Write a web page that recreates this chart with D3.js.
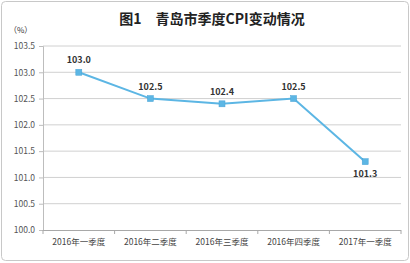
<!DOCTYPE html>
<html><head><meta charset="utf-8">
<script src="https://cdn.jsdelivr.net/npm/d3@7"></script>
<style>body{margin:0;background:#fff;}svg{display:block;}</style>
</head><body>
<svg id="c" width="410" height="263"></svg>
<script>
const categories = ["2016年一季度","2016年二季度","2016年三季度","2016年四季度","2017年一季度"];
const values = [103.0, 102.5, 102.4, 102.5, 101.3];
const yTicks = [100.0, 100.5, 101.0, 101.5, 102.0, 102.5, 103.0, 103.5];
const title = "图1　青岛市季度CPI变动情况";
const unit = "（%）";

const svg = d3.select("#c");
const font = "'Noto Sans CJK SC','DejaVu Sans',sans-serif";
svg.append("rect").attr("x",1.5).attr("y",1.5).attr("width",407).attr("height",259)
  .attr("rx",4).attr("fill","#fff").attr("stroke","#c8c8c8");

const L=43, R=401, T=46, B=230;
const x = d3.scaleBand().domain(categories).range([L,R]);
const y = d3.scaleLinear().domain([100,103.5]).range([B,T]);

svg.append("text").attr("x",212).attr("y",24).attr("text-anchor","middle")
  .attr("font-family",font).attr("font-size",14).attr("font-weight","bold").attr("fill","#222").text(title);
svg.append("text").attr("x",9).attr("y",33).attr("font-family",font).attr("font-size",8)
  .attr("fill","#333").text(unit);

// grid
svg.append("g").selectAll("line").data(yTicks.slice(1)).join("line")
  .attr("x1",L).attr("x2",R).attr("y1",d=>y(d)).attr("y2",d=>y(d))
  .attr("stroke","#d0d0d0").attr("stroke-width",1);

const ya = svg.append("g").attr("transform",`translate(${L},0)`)
  .call(d3.axisLeft(y).tickValues(yTicks).tickFormat(d3.format(".1f")).tickSize(4).tickPadding(4));
ya.select(".domain").attr("stroke","#bdbdbd");
ya.selectAll(".tick line").attr("stroke","#bdbdbd");
ya.selectAll("text").attr("font-family",font).attr("font-size",8.5).attr("fill","#555");

const xa = svg.append("g").attr("transform",`translate(0,${B})`)
  .call(d3.axisBottom(x).tickSize(0).tickPadding(9));
xa.select(".domain").remove();
xa.selectAll("text").attr("font-family",font).attr("font-size",8.5).attr("fill","#444");
svg.append("line").attr("x1",L).attr("x2",R).attr("y1",B+0.5).attr("y2",B+0.5).attr("stroke","#a8a8a8");
const edges = categories.map(c=>x(c)).concat([x(categories[categories.length-1])+x.bandwidth()]);
svg.append("g").selectAll("line").data(edges).join("line")
  .attr("x1",d=>d).attr("x2",d=>d).attr("y1",B).attr("y2",B+4).attr("stroke","#a8a8a8");

const cx = c=>x(c)+x.bandwidth()/2;
const line = d3.line().x((d,i)=>cx(categories[i])).y(d=>y(d));
svg.append("path").datum(values).attr("d",line).attr("fill","none")
  .attr("stroke","#5cb6e4").attr("stroke-width",2);
svg.append("g").selectAll("rect").data(values).join("rect")
  .attr("x",(d,i)=>cx(categories[i])-3).attr("y",d=>y(d)-3).attr("width",6).attr("height",6)
  .attr("fill","#5cb6e4").attr("stroke","#4aa3d6").attr("stroke-width",0.5);
svg.append("g").selectAll("text").data(values).join("text")
  .attr("x",(d,i)=>cx(categories[i])).attr("y",(d,i)=> i===4 ? y(d)+15 : y(d)-9)
  .attr("text-anchor","middle").attr("font-family",font).attr("font-size",9)
  .attr("font-weight","bold").attr("fill","#333").text(d=>d3.format(".1f")(d));
</script>
</body></html>
